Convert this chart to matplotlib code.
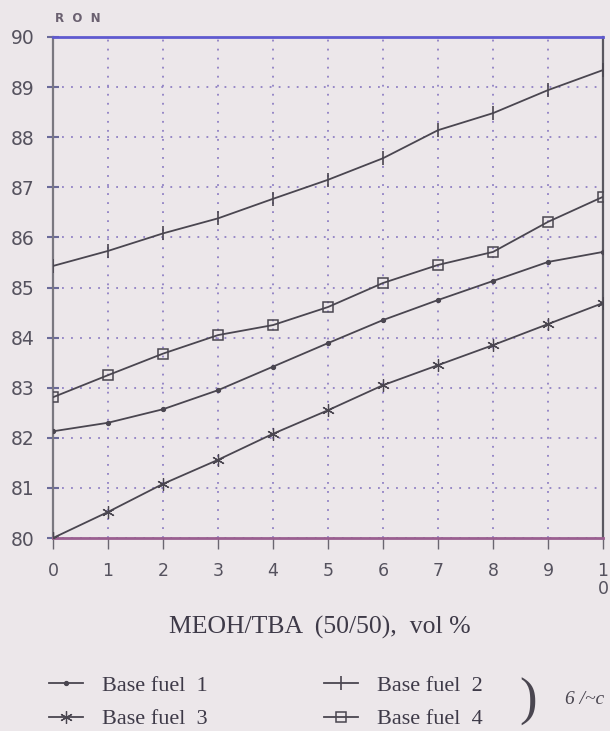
import matplotlib
matplotlib.use("Agg")
import matplotlib.pyplot as plt

# ---- data ----
x_vals = [0, 1, 2, 3, 4, 5, 6, 7, 8, 9, 10]
fuel1 = [82.13, 82.30, 82.57, 82.95, 83.42, 83.89, 84.35, 84.75, 85.13, 85.51, 85.71]
fuel2 = [85.43, 85.73, 86.08, 86.38, 86.77, 87.15, 87.58, 88.14, 88.48, 88.94, 89.34]
fuel3 = [80.00, 80.52, 81.08, 81.56, 82.08, 82.55, 83.05, 83.45, 83.85, 84.27, 84.69]
fuel4 = [82.81, 83.25, 83.68, 84.05, 84.25, 84.61, 85.09, 85.45, 85.71, 86.31, 86.81]
labels = ["Base fuel  1", "Base fuel  2", "Base fuel  3", "Base fuel  4"]
x_ticklabels = ["0", "1", "2", "3", "4", "5", "6", "7", "8", "9", "1\n0"]
y_ticks = [80, 81, 82, 83, 84, 85, 86, 87, 88, 89, 90]

BG = "#ece7ea"
LINE = "#4a4650"
TXT = "#55525e"

fig = plt.figure(figsize=(6.10, 7.31), dpi=100, facecolor=BG)
ax = fig.add_axes([53 / 610, 1 - 538 / 731, (603 - 53) / 610, (538 - 37) / 731])
ax.set_facecolor(BG)

ax.plot(x_vals, fuel1, color=LINE, lw=1.3, marker="o", ms=2.8, label=labels[0], zorder=3)
ax.plot(x_vals, fuel2, color=LINE, lw=1.3, marker="|", ms=10, mew=1.2, label=labels[1], zorder=3)
ax.plot(x_vals, fuel3, color=LINE, lw=1.3, marker=(6, 2, 0), ms=9, mew=0.9, label=labels[2], zorder=3)
ax.plot(x_vals, fuel4, color=LINE, lw=1.3, marker="s", ms=7, mfc="none", mew=1.1, label=labels[3], zorder=3)

ax.set_xlim(0, 10)
ax.set_ylim(80, 90)
ax.set_xticks(x_vals)
ax.set_xticklabels(x_ticklabels, linespacing=1.05, va="top")
ax.set_yticks(y_ticks)
ax.set_yticklabels([str(v) for v in y_ticks])

ax.grid(True, color="#8f80c4", linestyle=(0, (1, 4)), linewidth=1.3)
ax.tick_params(axis="x", direction="out", length=8, width=1, colors="#6a6670", pad=9,
               labelsize=12.5, labelcolor=TXT)
ax.tick_params(axis="y", direction="inout", length=8, width=1.5, colors="#6a6a9a", pad=9,
               labelsize=13.5, labelcolor=TXT)

ax.spines["top"].set_color("#5f5ad0")
ax.spines["top"].set_linewidth(2.0)
ax.spines["bottom"].set_color("#9a5f90")
ax.spines["bottom"].set_linewidth(2.0)
ax.spines["left"].set_color("#7a7880")
ax.spines["left"].set_linewidth(1.6)
ax.spines["right"].set_color("#5a5860")
ax.spines["right"].set_linewidth(1.6)

fig.text(55 / 610, 1 - 18 / 731, "R  O  N", fontsize=8.5, fontweight="bold", color="#6a6070",
         ha="left", va="center")

fig.text(320 / 610, 1 - 627 / 731, "MEOH/TBA  (50/50),  vol %", fontsize=18.5,
         family="Liberation Serif", color="#3e3a48", ha="center", va="center")

h = ax.get_lines()
leg = fig.legend([h[0], h[2], h[1], h[3]], [labels[0], labels[2], labels[1], labels[3]],
                 ncol=2, loc="upper left", bbox_to_anchor=(49 / 610, 1 - 675 / 731),
                 frameon=False, prop={"family": "Liberation Serif", "size": 16},
                 handlelength=1.55, handletextpad=0.85, columnspacing=5.2, labelspacing=0.6,
                 borderaxespad=0, borderpad=0)
for t in leg.get_texts():
    t.set_color("#3e3a48")

fig.text(528 / 610, 1 - 702 / 731, ")", fontsize=38, family="Liberation Serif",
         color="#4a4650", ha="center", va="center")
fig.text(565 / 610, 1 - 700 / 731, "6 /~c", fontsize=14, family="Liberation Serif",
         color="#4a4650", ha="left", va="center", style="italic")

fig.savefig("out.png", dpi=100, facecolor=BG)
